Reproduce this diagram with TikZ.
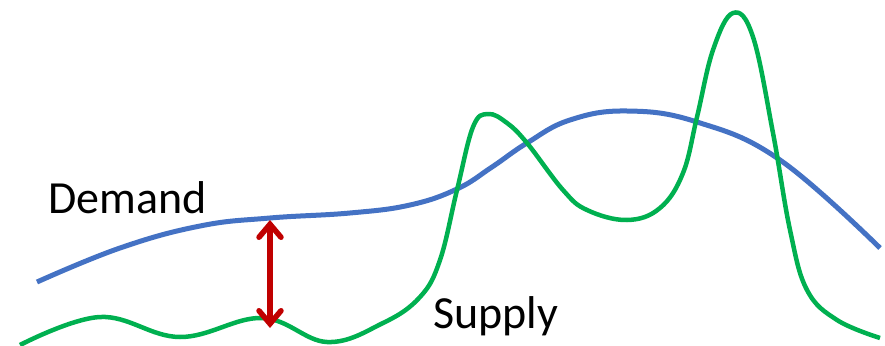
\documentclass[tikz,border=0pt]{standalone}
\usepackage{fontspec}
\setmainfont{Carlito}
\usetikzlibrary{arrows.meta}
\definecolor{demandblue}{HTML}{4472C4}
\definecolor{supplygreen}{HTML}{00B050}
\definecolor{gapred}{HTML}{C00000}
\begin{document}
\begin{tikzpicture}[x=1pt, y=-1pt, font=\fontsize{46}{50}\selectfont, line join=round,
	demand/.style={demandblue, line width=5pt},
	supply/.style={supplygreen, line width=4.5pt},
	gap/.style={gapred, line width=5.5pt, {Straight Barb[length=13pt,width=22pt,line cap=round]}-{Straight Barb[length=13pt,width=22pt,line cap=round]}},
	lbl/.style={anchor=base west, inner sep=0pt}]
		\useasboundingbox (0,0) rectangle (885,345);
		\draw[demand] plot[smooth, tension=0.7] coordinates {(37,282) (120,248) (200,226) (270,218) (350,213) (410,205) (457,189) (492,167) (527,143) (570,120) (627,111) (697,122) (780,160) (880,248)};
		\draw[supply] plot[smooth, tension=0.65] coordinates {(20,345) (100,317) (180,337) (262,318) (327,342) (383,323) (420,297) (440,260) (457,190) (473,127) (488,114) (507,123) (527,143) (563,190) (587,210) (627,220) (660,208) (683,173) (697,117) (713,50) (733,13) (753,37) (773,133) (790,230) (807,290) (837,320) (880,338)};
		\coordinate (gapTop) at (270,220);
		\coordinate (gapBot) at (270,328);
		\draw[gap] (gapTop)--(gapBot);
		\node[lbl] (demandLbl) at (48,213) {Demand};
		\node[lbl] (supplyLbl) at (433,328) {Supply};
\end{tikzpicture}
\end{document}
